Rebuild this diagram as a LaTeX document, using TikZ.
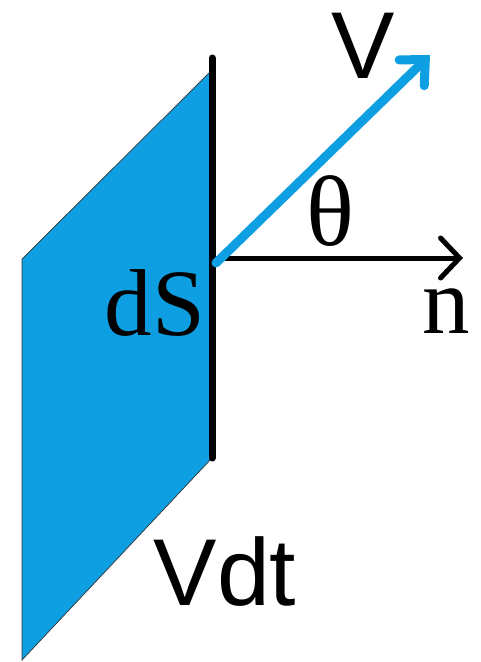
\documentclass[tikz,border=0pt]{standalone}
\usepackage{fontspec}
\setmainfont{Liberation Serif}
\setsansfont{Liberation Sans}
\usepackage{xcolor}
\usetikzlibrary{arrows.meta}
\definecolor{flaeche}{RGB}{14,158,226}

\begin{document}
\begin{tikzpicture}[x=1pt, y=-1pt, font=\fontsize{95}{95}\selectfont,
    lbl/.style={inner sep=0pt, anchor=base}]

    % --- 1. RAHMEN ---
    \useasboundingbox (0,0) rectangle (481,662);

    % --- 2. FLAECHE dS ---
    \fill[flaeche, draw=black!80, line width=0.7pt] (22,259) -- (210,72) -- (212,458) -- (22,660) -- cycle;
    \draw[line width=7pt, line cap=round] (212,58) -- (212,458);

    % --- 3. VEKTOREN ---
    \coordinate (O) at (214,258);
    \coordinate (Ov) at (216,263);
    \coordinate (vtip) at (430,55);
    \coordinate (ntip) at (463,258);
    \draw[-{Straight Barb[length=19pt, width=40pt, line cap=round]}, line width=5pt] (O) -- (ntip);
    \draw[-{Straight Barb[length=19pt, width=36pt, line cap=round]}, flaeche, line width=9pt, line cap=round] (Ov) -- (vtip);

    % --- 4. BESCHRIFTUNG ---
    \node[lbl, font=\fontsize{95}{95}\sffamily] (V) at (363,78) {V};
    \node[lbl, font=\fontsize{100}{100}\selectfont] (theta) at (330,245) {θ};
    \node[lbl] (n) at (446,333) {n};
    \node[lbl] (dS) at (155,335) {dS};
    \node[lbl, font=\fontsize{95}{95}\sffamily] (Vdt) at (225,605) {Vdt};

\end{tikzpicture}
\end{document}
